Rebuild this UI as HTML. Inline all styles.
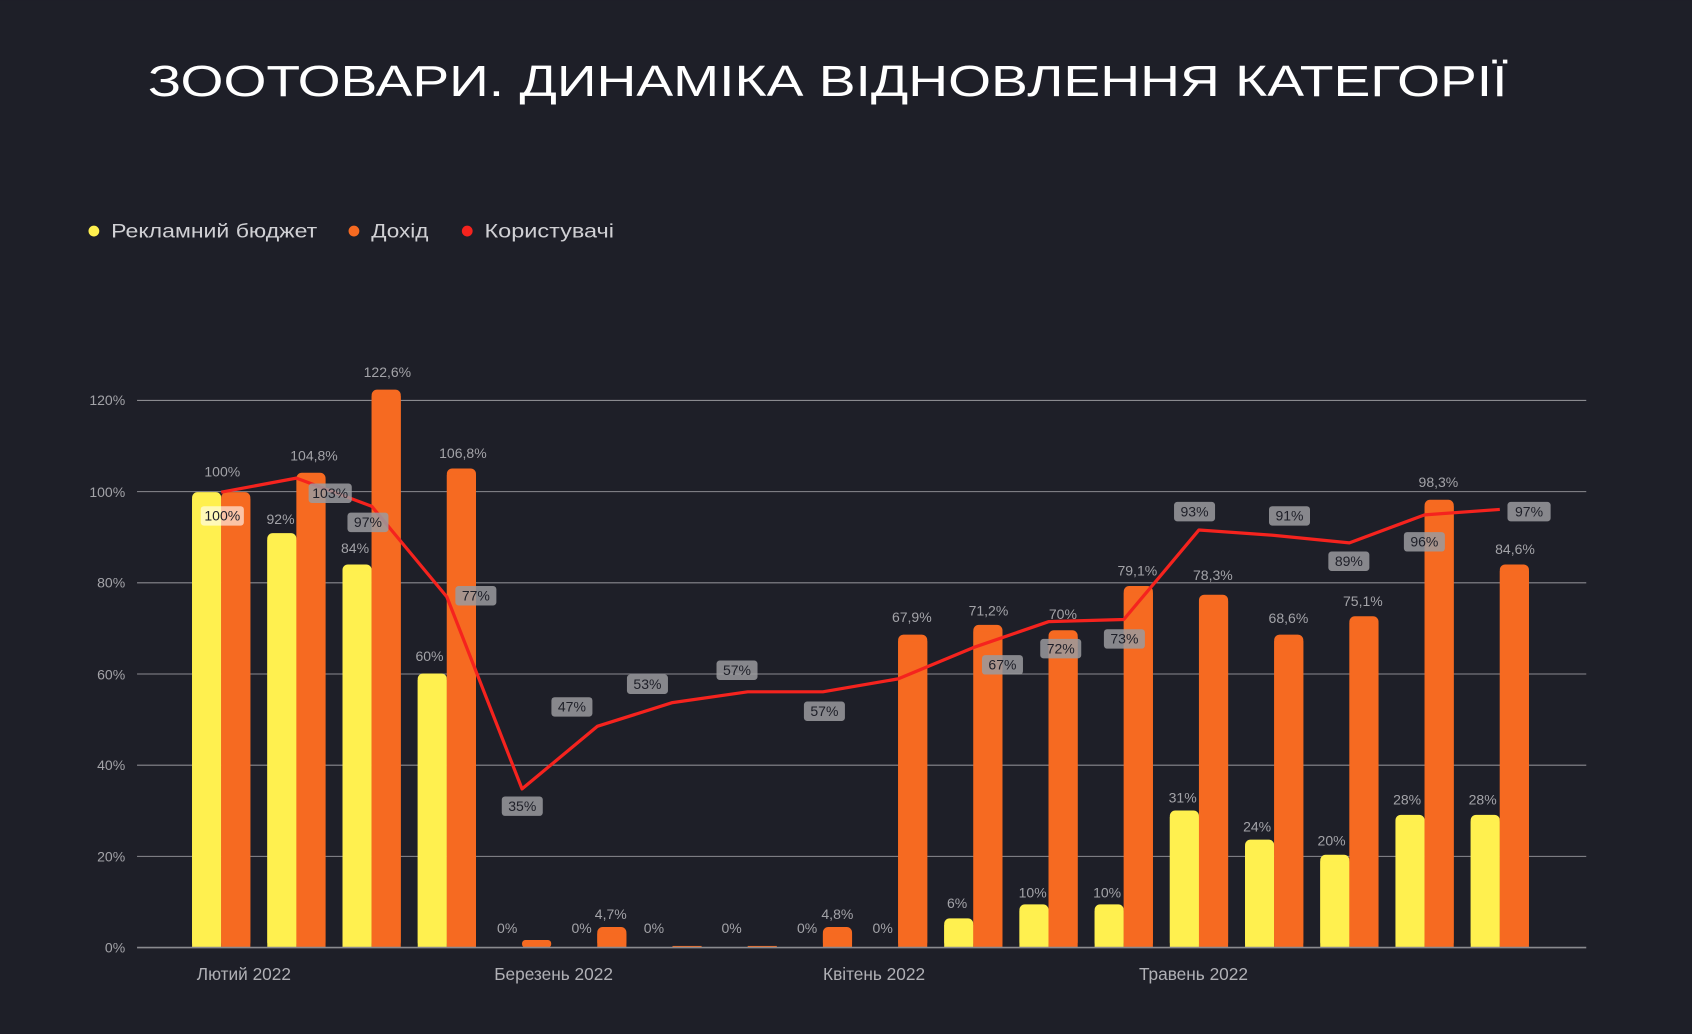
<!DOCTYPE html>
<html><head><meta charset="utf-8"><style>
html,body{margin:0;padding:0;background:#1e1f28;width:1692px;height:1034px;overflow:hidden}
svg{display:block}
text{font-family:"Liberation Sans","DejaVu Sans",sans-serif}
.v{fill:#a3a3a8;font-size:13px;text-anchor:middle;dominant-baseline:middle}
.ax{fill:#a3a3a8;font-size:13px;text-anchor:end;dominant-baseline:middle}
.xl{fill:#b0b0b5;font-size:16px;text-anchor:middle}
.bx rect{fill:#9a9a9e;fill-opacity:.85}
.bx text{fill:#1e1f28;font-size:13px;text-anchor:middle;dominant-baseline:middle}
.y{fill:#fff04f}.o{fill:#f66a21}
</style></head><body>
<svg width="1692" height="1034" viewBox="0 0 1568 958" xmlns="http://www.w3.org/2000/svg">
<rect width="1568" height="958" fill="#1e1f28"/>
<text x="137" y="89" fill="#ffffff" font-size="40" textLength="1260" lengthAdjust="spacingAndGlyphs">ЗООТОВАРИ. ДИНАМІКА ВІДНОВЛЕННЯ КАТЕГОРІЇ</text>
<circle cx="87" cy="214" r="5" fill="#fff04f"/><text x="103" y="220" fill="#d0d0d4" font-size="18" textLength="191" lengthAdjust="spacingAndGlyphs">Рекламний бюджет</text>
<circle cx="328" cy="214" r="5" fill="#f66a21"/><text x="344" y="220" fill="#d0d0d4" font-size="18" textLength="53" lengthAdjust="spacingAndGlyphs">Дохід</text>
<circle cx="433" cy="214" r="5" fill="#f5231e"/><text x="449" y="220" fill="#d0d0d4" font-size="18" textLength="120" lengthAdjust="spacingAndGlyphs">Користувачі</text>
<g stroke="#8a8a8f" stroke-width="1">
<line x1="127" x2="1470" y1="371" y2="371"/><line x1="127" x2="1470" y1="455.5" y2="455.5"/><line x1="127" x2="1470" y1="540" y2="540"/><line x1="127" x2="1470" y1="624.5" y2="624.5"/><line x1="127" x2="1470" y1="709" y2="709"/><line x1="127" x2="1470" y1="793.5" y2="793.5"/>
</g>
<text class="ax" x="116" y="372">120%</text><text class="ax" x="116" y="457">100%</text><text class="ax" x="116" y="541">80%</text><text class="ax" x="116" y="626">60%</text><text class="ax" x="116" y="710">40%</text><text class="ax" x="116" y="795">20%</text><text class="ax" x="116" y="879">0%</text>
<g class="y">
<rect x="178" y="456" width="27" height="422" rx="5"/><rect x="178" y="462" width="27" height="416"/>
<rect x="247.7" y="494" width="27" height="384" rx="5"/><rect x="247.7" y="500" width="27" height="378"/>
<rect x="317.4" y="523" width="27" height="355" rx="5"/><rect x="317.4" y="529" width="27" height="349"/>
<rect x="387.1" y="624" width="27" height="254" rx="5"/><rect x="387.1" y="630" width="27" height="248"/>
<rect x="875" y="851" width="27" height="27" rx="5"/><rect x="875" y="857" width="27" height="21"/>
<rect x="944.7" y="838" width="27" height="40" rx="5"/><rect x="944.7" y="844" width="27" height="34"/>
<rect x="1014.4" y="838" width="27" height="40" rx="5"/><rect x="1014.4" y="844" width="27" height="34"/>
<rect x="1084.1" y="751" width="27" height="127" rx="5"/><rect x="1084.1" y="757" width="27" height="121"/>
<rect x="1153.8" y="778" width="27" height="100" rx="5"/><rect x="1153.8" y="784" width="27" height="94"/>
<rect x="1223.5" y="792" width="27" height="86" rx="5"/><rect x="1223.5" y="798" width="27" height="80"/>
<rect x="1293.2" y="755" width="27" height="123" rx="5"/><rect x="1293.2" y="761" width="27" height="117"/>
<rect x="1362.9" y="755" width="27" height="123" rx="5"/><rect x="1362.9" y="761" width="27" height="117"/>
</g>
<g class="o">
<rect x="205" y="456" width="27" height="422" rx="5"/><rect x="205" y="462" width="27" height="416"/>
<rect x="274.7" y="438" width="27" height="440" rx="5"/><rect x="274.7" y="444" width="27" height="434"/>
<rect x="344.4" y="361" width="27" height="517" rx="5"/><rect x="344.4" y="367" width="27" height="511"/>
<rect x="414.1" y="434" width="27" height="444" rx="5"/><rect x="414.1" y="440" width="27" height="438"/>
<rect x="483.8" y="871" width="27" height="7" rx="3"/>
<rect x="553.5" y="859" width="27" height="19" rx="5"/><rect x="553.5" y="865" width="27" height="13"/>
<rect x="623.2" y="876.5" width="27" height="1.5"/><rect x="692.9" y="876.5" width="27" height="1.5"/>
<rect x="762.6" y="859" width="27" height="19" rx="5"/><rect x="762.6" y="865" width="27" height="13"/>
<rect x="832.3" y="588" width="27" height="290" rx="5"/><rect x="832.3" y="594" width="27" height="284"/>
<rect x="902" y="579" width="27" height="299" rx="5"/><rect x="902" y="585" width="27" height="293"/>
<rect x="971.7" y="584" width="27" height="294" rx="5"/><rect x="971.7" y="590" width="27" height="288"/>
<rect x="1041.4" y="543" width="27" height="335" rx="5"/><rect x="1041.4" y="549" width="27" height="329"/>
<rect x="1111.1" y="551" width="27" height="327" rx="5"/><rect x="1111.1" y="557" width="27" height="321"/>
<rect x="1180.8" y="588" width="27" height="290" rx="5"/><rect x="1180.8" y="594" width="27" height="284"/>
<rect x="1250.5" y="571" width="27" height="307" rx="5"/><rect x="1250.5" y="577" width="27" height="301"/>
<rect x="1320.2" y="463" width="27" height="415" rx="5"/><rect x="1320.2" y="469" width="27" height="409"/>
<rect x="1389.9" y="523" width="27" height="355" rx="5"/><rect x="1389.9" y="529" width="27" height="349"/>
</g>
<line x1="127" x2="1470" y1="878" y2="878" stroke="#8a8a8f" stroke-width="1.5"/>
<text class="v" x="206" y="438">100%</text>
<text class="v" x="260" y="482">92%</text><text class="v" x="329" y="509">84%</text><text class="v" x="398" y="609">60%</text>
<text class="v" x="470" y="861">0%</text><text class="v" x="539" y="861">0%</text><text class="v" x="606" y="861">0%</text><text class="v" x="678" y="861">0%</text><text class="v" x="748" y="861">0%</text><text class="v" x="818" y="861">0%</text>
<text class="v" x="887" y="838">6%</text><text class="v" x="957" y="828">10%</text><text class="v" x="1026" y="828">10%</text><text class="v" x="1096" y="740">31%</text><text class="v" x="1165" y="767">24%</text><text class="v" x="1234" y="780">20%</text><text class="v" x="1304" y="742">28%</text><text class="v" x="1374" y="742">28%</text>
<text class="v" x="291" y="423">104,8%</text><text class="v" x="359" y="346">122,6%</text><text class="v" x="429" y="421">106,8%</text>
<text class="v" x="566" y="848">4,7%</text><text class="v" x="776" y="848">4,8%</text><text class="v" x="845" y="573">67,9%</text><text class="v" x="916" y="567">71,2%</text><text class="v" x="985" y="570">70%</text><text class="v" x="1054" y="530">79,1%</text><text class="v" x="1124" y="534">78,3%</text><text class="v" x="1194" y="574">68,6%</text><text class="v" x="1263" y="558">75,1%</text><text class="v" x="1333" y="448">98,3%</text><text class="v" x="1404" y="510">84,6%</text>
<text class="xl" x="226" y="908">Лютий 2022</text><text class="xl" x="513" y="908">Березень 2022</text><text class="xl" x="810" y="908">Квітень 2022</text><text class="xl" x="1106" y="908">Травень 2022</text>
<polyline fill="none" stroke="#f5231e" stroke-width="3" stroke-linejoin="round" points="205,456 274.7,443 344.4,469 414.1,553 483.8,731 553.5,673 623.2,651 692.9,641 762.6,641 832.3,629 902,600 971.7,576 1041.4,574 1111.1,491 1180.8,496 1250.5,503 1320.2,477 1389.9,472"/>
<g class="bx">
<rect x="186" y="469" width="40" height="18" rx="3" style="fill:#fff;fill-opacity:.6"/><text x="206" y="479">100%</text>
<rect x="286" y="448" width="40" height="18" rx="3"/><text x="306" y="458">103%</text>
<rect x="322" y="475" width="38" height="18" rx="3"/><text x="341" y="485">97%</text>
<rect x="422" y="543" width="38" height="18" rx="3"/><text x="441" y="553">77%</text>
<rect x="465" y="738" width="38" height="18" rx="3"/><text x="484" y="748">35%</text>
<rect x="511" y="646" width="38" height="18" rx="3"/><text x="530" y="656">47%</text>
<rect x="581" y="625" width="38" height="18" rx="3"/><text x="600" y="635">53%</text>
<rect x="664" y="612" width="38" height="18" rx="3"/><text x="683" y="622">57%</text>
<rect x="745" y="650" width="38" height="18" rx="3"/><text x="764" y="660">57%</text>
<rect x="910" y="607" width="38" height="18" rx="3"/><text x="929" y="617">67%</text>
<rect x="964" y="592" width="38" height="18" rx="3"/><text x="983" y="602">72%</text>
<rect x="1023" y="583" width="38" height="18" rx="3"/><text x="1042" y="593">73%</text>
<rect x="1088" y="465" width="38" height="18" rx="3"/><text x="1107" y="475">93%</text>
<rect x="1176" y="469" width="38" height="18" rx="3"/><text x="1195" y="479">91%</text>
<rect x="1231" y="511" width="38" height="18" rx="3"/><text x="1250" y="521">89%</text>
<rect x="1301" y="493" width="38" height="18" rx="3"/><text x="1320" y="503">96%</text>
<rect x="1397" y="465" width="40" height="18" rx="3"/><text x="1417" y="475">97%</text>
</g>
</svg>
</body></html>
